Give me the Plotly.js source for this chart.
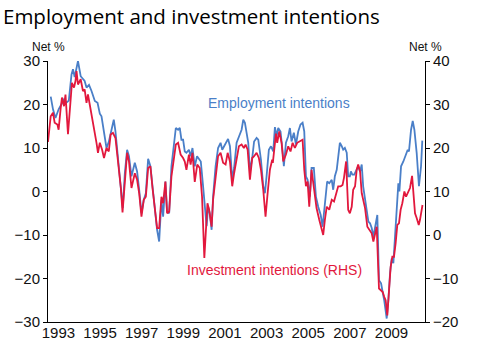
<!DOCTYPE html>
<html>
<head>
<meta charset="utf-8">
<script src="https://cdn.plot.ly/plotly-3.0.1.min.js"></script>
<style>html,body{margin:0;padding:0;background:#fff;}#chart{width:479px;height:353px;}</style>
</head>
<body>
<div id="chart"></div>
<script>
// Employment intentions (net %, left axis)
var empDates = [1992.63,1992.74,1992.86,1993.01,1993.14,1993.27,1993.38,1993.50,1993.63,1993.70,1993.78,1993.94,
1994.07,1994.26,1994.35,1994.47,1994.59,1994.75,1994.88,1994.99,1995.07,1995.14,1995.23,1995.31,1995.42,1995.55,
1995.66,1995.74,1995.87,1996.00,1996.09,1996.19,1996.30,1996.39,1996.51,1996.67,1996.78,1996.88,1996.99,1997.10,
1997.20,1997.31,1997.42,1997.52,1997.63,1997.74,1997.84,1997.95,1998.03,1998.14,1998.22,1998.32,1998.43,1998.54,
1998.64,1998.75,1998.83,1998.91,1998.99,1999.07,1999.15,1999.27,1999.35,1999.44,1999.55,1999.66,1999.84,1999.95,
2000.03,2000.12,2000.19,2000.27,2000.36,2000.43,2000.55,2000.67,2000.79,2000.87,2000.96,2001.08,2001.15,2001.24,
2001.35,2001.44,2001.56,2001.68,2001.80,2001.88,2001.96,2002.04,2002.12,2002.20,2002.31,2002.40,2002.52,2002.60,
2002.73,2002.84,2002.92,2003.00,2003.11,2003.21,2003.32,2003.40,2003.48,2003.56,2003.67,2003.77,2003.83,2003.93,
2004.04,2004.12,2004.20,2004.31,2004.41,2004.52,2004.63,2004.73,2004.81,2004.89,2004.97,2005.08,2005.16,2005.27,
2005.37,2005.48,2005.60,2005.69,2005.80,2005.91,2006.01,2006.13,2006.20,2006.28,2006.37,2006.44,2006.52,2006.61,
2006.68,2006.76,2006.85,2006.92,2007.00,2007.05,2007.12,2007.21,2007.33,2007.40,2007.49,2007.57,2007.64,2007.73,
2007.81,2007.89,2007.97,2008.05,2008.13,2008.21,2008.32,2008.40,2008.50,2008.56,2008.65,2008.77,2008.85,2008.93,
2009.01,2009.09,2009.17,2009.25,2009.33,2009.38,2009.46,2009.57,2009.68,2009.78,2009.84,2009.94,2010.02,2010.10,
2010.21,2010.32,2010.42,2010.48];
var empValues = [21.8,18.9,16.9,18.9,20.0,21.2,20.4,20.9,26.9,28.1,26.3,30.0,
26.5,25.4,23.9,24.5,23.1,20.8,20.4,17.9,17.3,15.0,11.5,10.0,11.4,14.2,
16.5,13.8,6.9,0.4,-3.8,4.2,9.6,8.1,3.5,6.6,4.6,0.4,-5.0,-1.9,
-0.4,7.5,5.8,1.2,-4.2,-8.8,-11.5,-1.9,-5.8,2.3,-4.6,-5.0,5.8,10.8,
14.6,14.2,14.6,11.9,11.9,9.2,8.9,9.6,8.1,10.0,5.8,8.1,6.9,1.2,
-4.2,-8.0,-3.5,-5.0,-8.8,-1.2,5.8,10.0,11.2,9.6,10.4,11.5,12.1,10.4,
2.7,5.4,11.2,12.7,14.2,16.5,15.8,13.5,11.2,4.6,7.7,11.5,12.3,11.9,
7.3,1.2,-0.4,3.5,9.6,10.4,9.2,14.8,12.7,14.6,13.8,9.2,5.8,11.2,
12.7,14.6,11.5,13.5,10.8,13.8,15.4,15.8,13.8,3.5,2.7,-1.2,5.4,5.4,
-1.2,-3.5,-5.4,-8.1,-1.9,2.3,1.9,2.7,0.4,3.5,5.0,7.7,11.2,10.4,
9.6,10.0,8.9,3.5,3.5,4.6,3.9,3.9,5.0,5.8,4.6,6.2,1.2,-1.9,
-4.2,-6.9,-7.3,-8.4,-10.4,-8.1,-5.4,-20.4,-21.1,-22.7,-25.0,-29.2,-25.0,-18.8,
-15.4,-16.5,-9.6,-5.0,1.9,0.0,5.8,6.9,8.5,9.6,9.2,14.2,16.2,14.2,
8.9,1.2,5.8,11.7];

// Investment intentions (net %, right-hand axis)
var invDates = [1992.50,1992.63,1992.74,1992.82,1992.95,1993.01,1993.11,1993.17,1993.27,1993.34,1993.46,1993.59,
1993.65,1993.75,1993.82,1993.87,1993.94,1994.07,1994.18,1994.26,1994.35,1994.42,1994.51,1994.66,1994.75,1994.83,
1994.90,1994.99,1995.10,1995.19,1995.31,1995.42,1995.51,1995.62,1995.74,1995.87,1996.00,1996.08,1996.19,1996.30,
1996.39,1996.51,1996.67,1996.78,1996.88,1996.99,1997.10,1997.20,1997.31,1997.42,1997.52,1997.63,1997.74,1997.84,
1997.95,1998.03,1998.14,1998.22,1998.32,1998.43,1998.54,1998.64,1998.75,1998.87,1998.99,1999.07,1999.15,1999.27,
1999.35,1999.44,1999.55,1999.67,1999.79,1999.90,2000.01,2000.16,2000.24,2000.36,2000.43,2000.55,2000.67,2000.79,
2000.91,2001.03,2001.13,2001.24,2001.35,2001.44,2001.56,2001.67,2001.80,2001.91,2001.99,2002.09,2002.20,2002.31,
2002.40,2002.52,2002.63,2002.73,2002.84,2002.95,2003.05,2003.16,2003.27,2003.30,2003.45,2003.51,2003.61,2003.72,
2003.80,2003.93,2004.04,2004.15,2004.25,2004.36,2004.47,2004.60,2004.73,2004.81,2004.89,2004.97,2005.05,2005.16,
2005.24,2005.32,2005.40,2005.53,2005.64,2005.72,2005.80,2005.89,2006.01,2006.13,2006.24,2006.33,2006.44,2006.56,
2006.65,2006.72,2006.82,2006.92,2007.00,2007.09,2007.16,2007.25,2007.33,2007.40,2007.49,2007.57,2007.64,2007.73,
2007.84,2007.97,2008.05,2008.13,2008.21,2008.29,2008.40,2008.50,2008.58,2008.65,2008.72,2008.80,2008.88,2008.96,
2009.04,2009.12,2009.20,2009.28,2009.36,2009.44,2009.52,2009.62,2009.70,2009.81,2009.89,2009.99,2010.05,2010.13,
2010.21,2010.31,2010.37,2010.49];
var invValues = [21.4,27.3,28.1,25.8,25.4,24.2,29.2,31.6,29.6,32.3,23.2,33.1,
35.0,33.9,35.4,37.7,34.6,35.8,33.1,33.5,30.4,32.3,30.0,26.2,23.8,21.2,
18.9,21.2,19.6,17.7,20.0,19.2,23.1,23.5,22.3,16.2,10.8,5.2,12.7,18.9,
16.9,10.8,14.2,12.7,9.6,4.2,8.1,8.8,15.4,15.8,10.8,5.8,1.6,1.6,
8.8,7.3,12.3,5.0,5.4,13.5,18.1,20.8,21.2,18.5,17.7,16.9,15.0,18.5,
16.2,18.9,12.2,16.2,15.4,8.8,-5.3,7.3,5.8,1.9,8.1,13.9,18.1,18.9,
16.6,16.2,18.9,16.9,11.2,14.2,17.7,20.4,20.8,20.0,20.8,19.6,12.7,17.7,
18.1,18.9,17.7,15.0,10.4,4.2,9.6,15.0,17.3,16.6,23.3,21.2,23.8,21.2,
16.9,18.5,20.4,19.2,21.2,20.0,21.2,21.5,21.9,15.0,11.2,12.3,6.5,15.0,
11.9,9.6,6.2,3.5,1.6,0.0,3.5,6.5,5.8,8.1,7.7,9.2,11.2,11.2,
11.5,13.2,16.9,5.8,5.0,6.5,10.4,11.2,15.0,16.2,14.6,9.6,8.1,6.2,
1.9,0.8,0.4,-1.5,0.4,1.9,-12.3,-12.7,-13.1,-14.2,-15.0,-18.5,-13.4,-7.3,
-5.0,-5.0,-1.9,2.3,2.7,5.8,7.3,10.0,8.8,10.0,10.8,13.6,9.6,5.0,
3.9,2.3,3.5,6.9];

var xTickVals = [1993,1995,1997,1999,2001,2003,2005,2007,2009];
var xTickText = ['1993','1995','1997','1999','2001','2003','2005','2007','2009'];
var leftTicks = [-30,-20,-10,0,10,20,30];
var rightTicks = [-20,-10,0,10,20,30,40];

var blue = '#4a7fc8';
var red = '#e2183d';
var tickFont = {family: 'Liberation Sans, Arial, sans-serif', size: 15, color: '#111'};
var unitFont = {family: 'Liberation Sans, Arial, sans-serif', size: 12, color: '#111'};

var traces = [
  {x: empDates, y: empValues, type: 'scatter', mode: 'lines', name: 'Employment intentions',
   line: {color: blue, width: 1.8}, yaxis: 'y'},
  {x: invDates, y: invValues, type: 'scatter', mode: 'lines', name: 'Investment intentions (RHS)',
   line: {color: red, width: 1.8}, yaxis: 'y2'}
];

var layout = {
  width: 479, height: 353,
  margin: {l: 48, r: 54, t: 61, b: 31},
  paper_bgcolor: '#fff', plot_bgcolor: '#fff',
  showlegend: false,
  title: {text: 'Employment and investment intentions', x: 3/479, xanchor: 'left',
          y: 1 - 17/353, yanchor: 'middle', yref: 'container',
          font: {family: 'Open Sans, sans-serif', size: 20.5, color: '#000'}},
  xaxis: {range: [1992.5, 2010.61], tickvals: xTickVals, ticktext: xTickText,
          showgrid: false, zeroline: false, showline: true, linecolor: '#000', linewidth: 1,
          ticks: '', ticklabelstandoff: -3, tickfont: tickFont},
  yaxis: {range: [-30, 30], tickvals: leftTicks, showgrid: false, zeroline: false,
          showline: true, linecolor: '#000', linewidth: 1, ticks: 'outside', ticklen: 4,
          tickcolor: '#000', tickfont: tickFont},
  yaxis2: {range: [-20, 40], tickvals: rightTicks, overlaying: 'y', side: 'right',
           showgrid: false, zeroline: false, showline: true, linecolor: '#000', linewidth: 1,
           ticks: 'outside', ticklen: 4, tickcolor: '#000', tickfont: tickFont},
  annotations: [
    {text: 'Net %', xref: 'paper', yref: 'paper', x: 0, y: 1, yshift: 14, xanchor: 'center', yanchor: 'middle',
     showarrow: false, font: unitFont},
    {text: 'Net %', xref: 'paper', yref: 'paper', x: 1, y: 1, yshift: 14, xanchor: 'center', yanchor: 'middle',
     showarrow: false, font: unitFont},
    {text: 'Employment intentions', xref: 'x', yref: 'y', x: 2003.6, y: 20.3, xanchor: 'center', yanchor: 'middle',
     showarrow: false, font: {family: 'Liberation Sans, Arial, sans-serif', size: 14, color: blue}},
    {text: 'Investment intentions (RHS)', xref: 'x', yref: 'y', x: 2003.4, y: -18, xanchor: 'center', yanchor: 'middle',
     showarrow: false, font: {family: 'Liberation Sans, Arial, sans-serif', size: 14, color: red}}
  ]
};

Plotly.newPlot('chart', traces, layout, {staticPlot: true, displayModeBar: false});
</script>
</body>
</html>
